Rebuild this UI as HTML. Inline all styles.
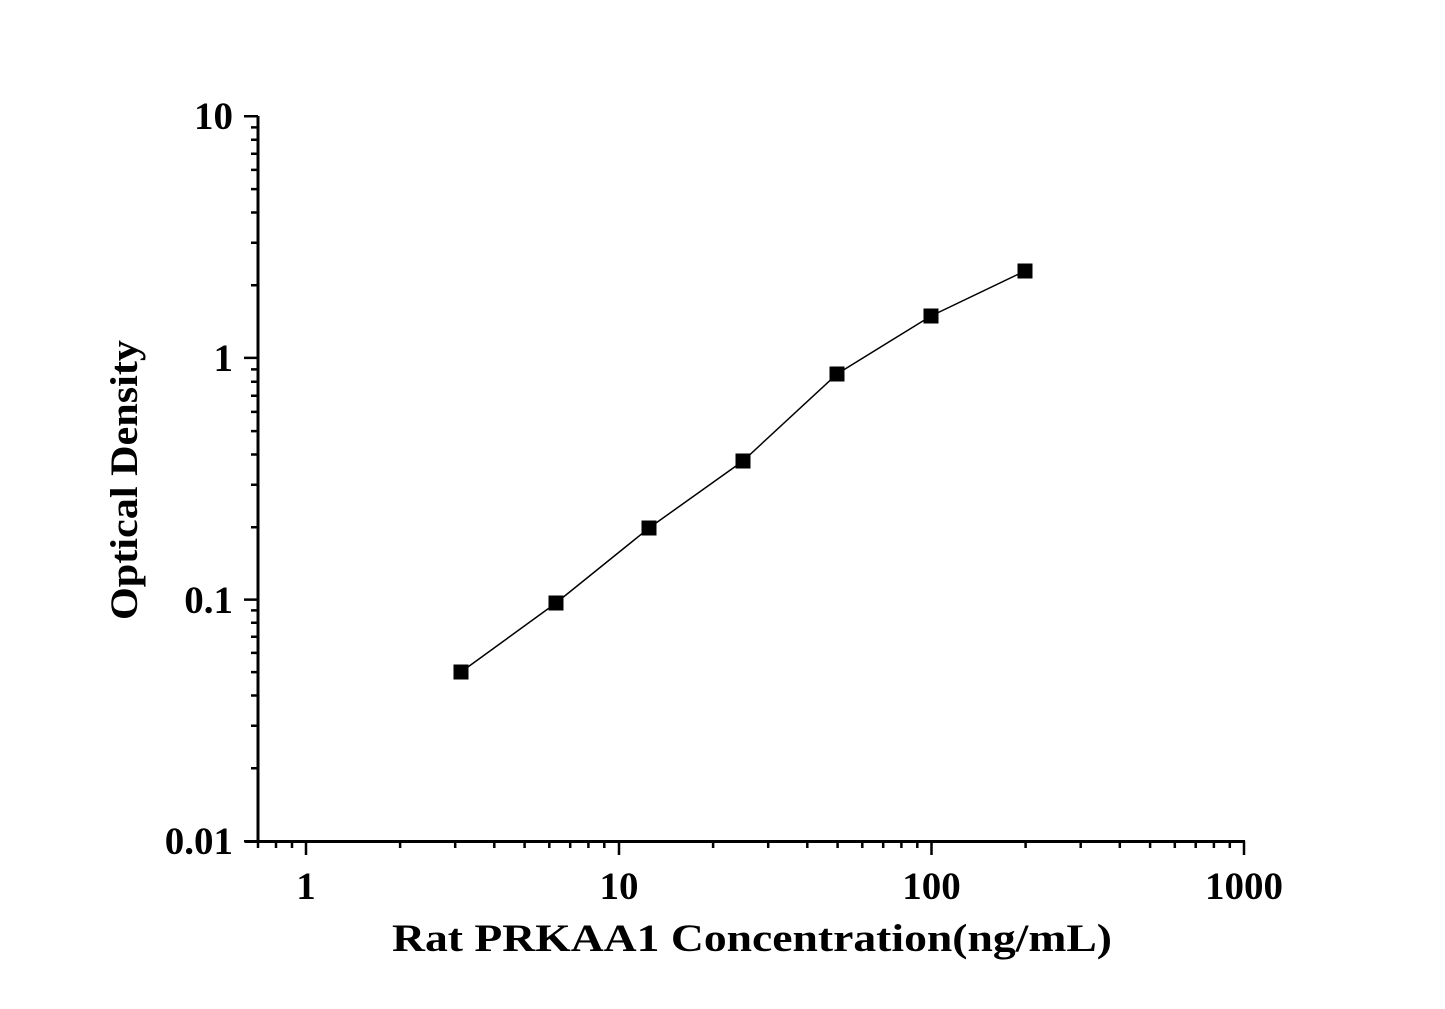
<!DOCTYPE html>
<html><head><style>body{margin:0;background:#fff}svg{display:block}text{font-family:"Liberation Serif",serif;font-weight:bold;fill:#000}</style></head>
<body>
<svg width="1445" height="1009" xmlns="http://www.w3.org/2000/svg">
<g stroke="#000" stroke-width="3" fill="none">
<line x1="258" y1="116" x2="258" y2="842"/>
<line x1="245" y1="841.5" x2="1245" y2="841.5"/>
</g>
<g stroke="#000" stroke-width="2.5">
<path d="M244 116.2H258M244 357.9H258M244 599.6H258M244 841.3H258"/>
<path d="M251 768.2H258M251 725.7H258M251 695.5H258M251 672.1H258M251 652.9H258M251 636.8H258M251 622.7H258M251 610.4H258
M251 527.2H258M251 484.7H258M251 454.5H258M251 431.1H258M251 411.9H258M251 395.8H258M251 381.7H258M251 369.4H258
M251 285.2H258M251 242.7H258M251 212.5H258M251 189.1H258M251 169.9H258M251 153.8H258M251 139.7H258M251 127.4H258"/>
<path d="M306 841V855M619 841V855M931.5 841V855M1244 841V855"/>
<path d="M258 841V848M276 841V848M292 841V848
M400.1 841V848M455.2 841V848M494.3 841V848M524.6 841V848M549.3 841V848M570.2 841V848M588.4 841V848M604.3 841V848
M713.1 841V848M768.2 841V848M807.3 841V848M837.6 841V848M862.3 841V848M883.2 841V848M901.4 841V848M917.3 841V848
M1025.6 841V848M1080.7 841V848M1119.8 841V848M1150.1 841V848M1174.8 841V848M1195.7 841V848M1213.9 841V848M1229.8 841V848"/>
</g>
<polyline points="461,672 556,603 649,528 743,461 837,374 931,316 1025,271" fill="none" stroke="#000" stroke-width="1.5"/>
<g fill="#000">
<rect x="453.5" y="664.5" width="15" height="15"/>
<rect x="548.5" y="595.5" width="15" height="15"/>
<rect x="641.5" y="520.5" width="15" height="15"/>
<rect x="735.5" y="453.5" width="15" height="15"/>
<rect x="829.5" y="366.5" width="15" height="15"/>
<rect x="923.5" y="308.5" width="15" height="15"/>
<rect x="1017.5" y="263.5" width="15" height="15"/>
</g>
<g font-size="39" text-anchor="end">
<text x="233" y="129">10</text>
<text x="233" y="371">1</text>
<text x="233" y="613">0.1</text>
<text x="233" y="854">0.01</text>
</g>
<g font-size="39" text-anchor="middle">
<text x="306" y="899">1</text>
<text x="619" y="899">10</text>
<text x="931.5" y="899">100</text>
<text x="1244" y="899">1000</text>
</g>
<text x="752" y="951" font-size="39" text-anchor="middle" textLength="720" lengthAdjust="spacingAndGlyphs">Rat PRKAA1 Concentration(ng/mL)</text>
<text transform="translate(137,480) rotate(-90)" font-size="39" text-anchor="middle" textLength="280" lengthAdjust="spacingAndGlyphs">Optical Density</text>
</svg>
</body></html>
